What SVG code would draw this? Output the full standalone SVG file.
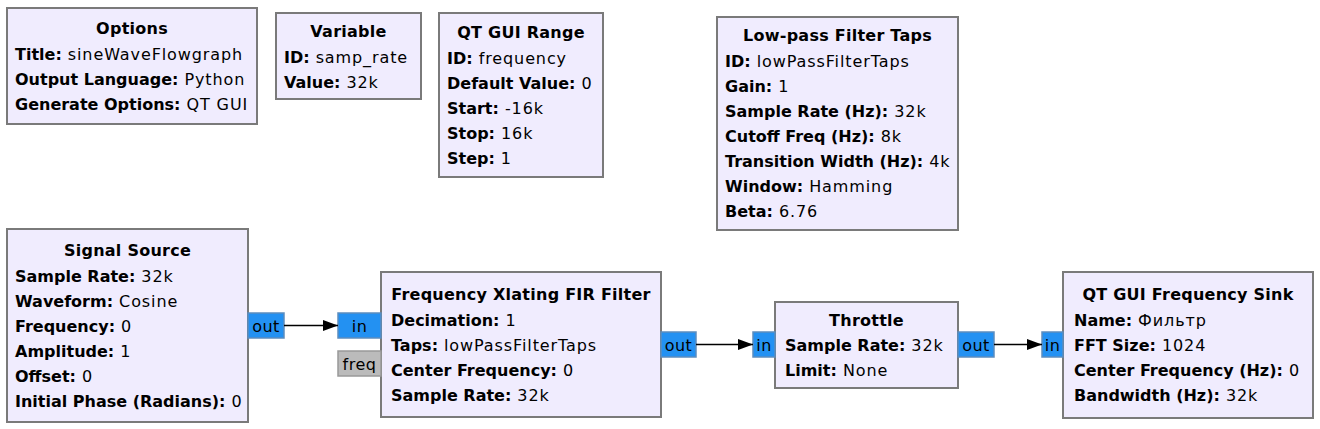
<svg xmlns="http://www.w3.org/2000/svg" width="1320" height="429" viewBox="0 0 1320 429">
<style>
.blk{fill:#F0ECFE;stroke:#7A7A7A;stroke-width:2}
text{font-family:"DejaVu Sans",sans-serif;font-size:16px;fill:#000;letter-spacing:0.9px}
.t{font-weight:bold;text-anchor:middle;letter-spacing:0.25px}
.b{font-weight:bold;letter-spacing:0}
.port{fill:#2391F2;stroke:#5C8DBE;stroke-width:1.5}
.msg{fill:#BBBBBB;stroke:#999999;stroke-width:1.5}
.pl{text-anchor:middle;letter-spacing:0.5px}
.wire{stroke:#000;stroke-width:1.6;fill:none}
</style>
<defs>
<marker id="ah" markerWidth="15" markerHeight="12" refX="15" refY="6" orient="auto" markerUnits="userSpaceOnUse">
<path d="M0,0.5 L15,6 L0,11.5 Z" fill="#000"/>
</marker>
</defs>
<rect width="1320" height="429" fill="#fff"/>

<g id="options">
<rect class="blk" x="7" y="8" width="250" height="116"/>
<text class="t" x="132" y="34">Options</text>
<text x="15" y="60"><tspan class="b">Title:</tspan> sineWaveFlowgraph</text>
<text x="15" y="85"><tspan class="b">Output Language:</tspan> Python</text>
<text x="15" y="110"><tspan class="b">Generate Options:</tspan> QT GUI</text>
</g>

<g id="variable">
<rect class="blk" x="276" y="13" width="145" height="86"/>
<text class="t" x="348.5" y="37">Variable</text>
<text x="284" y="63"><tspan class="b">ID:</tspan> samp_rate</text>
<text x="284" y="88"><tspan class="b">Value:</tspan> 32k</text>
</g>

<g id="qt_gui_range">
<rect class="blk" x="439" y="13" width="164" height="164"/>
<text class="t" x="521" y="38">QT GUI Range</text>
<text x="447" y="64"><tspan class="b">ID:</tspan> frequency</text>
<text x="447" y="89"><tspan class="b">Default Value:</tspan> 0</text>
<text x="447" y="114"><tspan class="b">Start:</tspan> -16k</text>
<text x="447" y="139"><tspan class="b">Stop:</tspan> 16k</text>
<text x="447" y="164"><tspan class="b">Step:</tspan> 1</text>
</g>

<g id="low_pass_filter_taps">
<rect class="blk" x="717" y="17" width="241" height="213"/>
<text class="t" x="837.5" y="41">Low-pass Filter Taps</text>
<text x="725" y="67"><tspan class="b">ID:</tspan> lowPassFilterTaps</text>
<text x="725" y="92"><tspan class="b">Gain:</tspan> 1</text>
<text x="725" y="117"><tspan class="b">Sample Rate (Hz):</tspan> 32k</text>
<text x="725" y="142"><tspan class="b">Cutoff Freq (Hz):</tspan> 8k</text>
<text x="725" y="167"><tspan class="b">Transition Width (Hz):</tspan> 4k</text>
<text x="725" y="192"><tspan class="b">Window:</tspan> Hamming</text>
<text x="725" y="217"><tspan class="b">Beta:</tspan> 6.76</text>
</g>

<g id="signal_source">
<rect class="blk" x="7" y="229" width="241" height="193"/>
<text class="t" x="127.5" y="256">Signal Source</text>
<text x="15" y="282"><tspan class="b">Sample Rate:</tspan> 32k</text>
<text x="15" y="307"><tspan class="b">Waveform:</tspan> Cosine</text>
<text x="15" y="332"><tspan class="b">Frequency:</tspan> 0</text>
<text x="15" y="357"><tspan class="b">Amplitude:</tspan> 1</text>
<text x="15" y="382"><tspan class="b">Offset:</tspan> 0</text>
<text x="15" y="407"><tspan class="b">Initial Phase (Radians):</tspan> 0</text>
<rect class="port" x="248" y="313" width="36" height="25"/>
<text class="pl" x="266" y="331.5">out</text>
</g>

<g id="freq_xlating_fir_filter">
<rect class="blk" x="381" y="272" width="280" height="145"/>
<text class="t" x="521" y="300">Frequency Xlating FIR Filter</text>
<text x="391" y="326"><tspan class="b">Decimation:</tspan> 1</text>
<text x="391" y="351"><tspan class="b">Taps:</tspan> lowPassFilterTaps</text>
<text x="391" y="376"><tspan class="b">Center Frequency:</tspan> 0</text>
<text x="391" y="401"><tspan class="b">Sample Rate:</tspan> 32k</text>
<rect class="port" x="338" y="313" width="43" height="25"/>
<text class="pl" x="359.5" y="331.5">in</text>
<rect class="msg" x="338" y="351" width="43" height="25"/>
<text class="pl" x="359.5" y="369.5">freq</text>
<rect class="port" x="661" y="332" width="35" height="25"/>
<text class="pl" x="678.5" y="350.5">out</text>
</g>

<g id="throttle">
<rect class="blk" x="775" y="302" width="183" height="86"/>
<text class="t" x="866.5" y="325.5">Throttle</text>
<text x="785" y="351"><tspan class="b">Sample Rate:</tspan> 32k</text>
<text x="785" y="376"><tspan class="b">Limit:</tspan> None</text>
<rect class="port" x="753" y="332" width="22" height="25"/>
<text class="pl" x="764" y="350.5">in</text>
<rect class="port" x="958" y="332" width="36" height="25"/>
<text class="pl" x="976" y="350.5">out</text>
</g>

<g id="qt_gui_freq_sink">
<rect class="blk" x="1063" y="272" width="250" height="146"/>
<text class="t" x="1188" y="300">QT GUI Frequency Sink</text>
<text x="1074" y="326"><tspan class="b">Name:</tspan> Фильтр</text>
<text x="1074" y="351"><tspan class="b">FFT Size:</tspan> 1024</text>
<text x="1074" y="376"><tspan class="b">Center Frequency (Hz):</tspan> 0</text>
<text x="1074" y="401"><tspan class="b">Bandwidth (Hz):</tspan> 32k</text>
<rect class="port" x="1042" y="332" width="21" height="25"/>
<text class="pl" x="1052.5" y="350.5">in</text>
</g>

<g id="connectors">
<path class="wire" d="M284,325.5 H338" marker-end="url(#ah)"/>
<path class="wire" d="M696,344.5 H753" marker-end="url(#ah)"/>
<path class="wire" d="M994,344.5 H1042" marker-end="url(#ah)"/>
</g>
</svg>
